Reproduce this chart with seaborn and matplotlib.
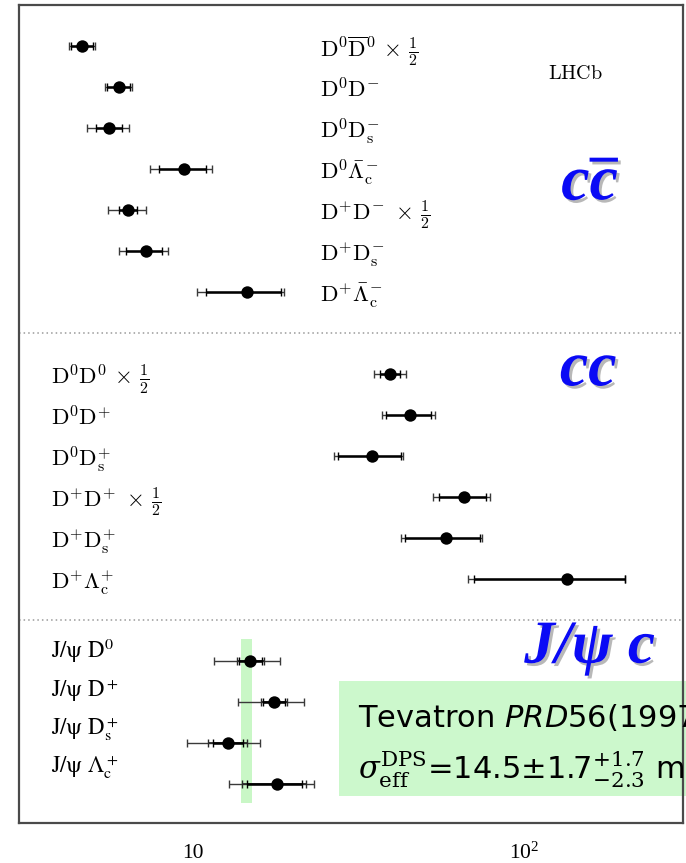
import numpy as np
import pandas as pd
import matplotlib
matplotlib.use("Agg")
import matplotlib.pyplot as plt
import matplotlib.patheffects as pe
from matplotlib.patches import Rectangle
from matplotlib.ticker import LogLocator, NullFormatter
import seaborn as sns

# ---------------------------------------------------------------- data
# effective DPS cross-section sigma_eff [mb]: central value, stat range, total range
ccbar_labels = [
    r"$\mathrm{D}^0\overline{\mathrm{D}}^0\,\times\,\frac{1}{2}$",
    r"$\mathrm{D}^0\mathrm{D}^{\!-}$",
    r"$\mathrm{D}^0\mathrm{D}_\mathrm{s}^{\!-}$",
    r"$\mathrm{D}^0\bar{\Lambda}_\mathrm{c}^{\!-}$",
    r"$\mathrm{D}^{\!+}\!\mathrm{D}^{\!-}\,\times\,\frac{1}{2}$",
    r"$\mathrm{D}^{\!+}\!\mathrm{D}_\mathrm{s}^{\!-}$",
    r"$\mathrm{D}^{\!+}\!\bar{\Lambda}_\mathrm{c}^{\!-}$",
]
ccbar_val = [4.65, 6.0, 5.61, 9.42, 6.40, 7.22, 14.6]
ccbar_stat_lo = [4.29, 5.54, 5.11, 7.92, 6.00, 6.31, 10.94]
ccbar_stat_hi = [5.01, 6.50, 6.11, 10.94, 6.78, 8.11, 18.5]
ccbar_tot_lo = [4.23, 5.46, 4.82, 7.42, 5.58, 6.00, 10.3]
ccbar_tot_hi = [5.08, 6.58, 6.43, 11.41, 7.22, 8.43, 18.9]

cc_labels = [
    r"$\mathrm{D}^0\mathrm{D}^0\,\times\,\frac{1}{2}$",
    r"$\mathrm{D}^0\mathrm{D}^{\!+}$",
    r"$\mathrm{D}^0\mathrm{D}_\mathrm{s}^{\!+}$",
    r"$\mathrm{D}^{\!+}\!\mathrm{D}^{\!+}\,\times\,\frac{1}{2}$",
    r"$\mathrm{D}^{\!+}\!\mathrm{D}_\mathrm{s}^{\!+}$",
    r"$\mathrm{D}^{\!+}\!\Lambda_\mathrm{c}^{\!+}$",
]
cc_val = [39.4, 45.3, 34.8, 65.7, 57.9, 134.0]
cc_stat_lo = [36.8, 38.3, 27.5, 55.1, 43.7, 70.2]
cc_stat_hi = [42.2, 52.4, 42.3, 76.3, 73.6, 200.0]
cc_tot_lo = [35.2, 37.1, 26.7, 53.1, 42.5, 67.5]
cc_tot_hi = [43.8, 53.6, 43.0, 78.8, 74.2, 201.0]

jpsi_labels = [
    r"$\mathrm{J/ψ\ D}^0$",
    r"$\mathrm{J/ψ\ D}^+$",
    r"$\mathrm{J/ψ\ D}_\mathrm{s}^+$",
    r"$\mathrm{J/ψ\ }\Lambda_\mathrm{c}^+$",
]
jpsi_val = [14.9, 17.6, 12.8, 18.0]
jpsi_stat_lo = [13.8, 16.3, 11.5, 14.6]
jpsi_stat_hi = [16.2, 19.0, 14.2, 21.3]
jpsi_syst_lo = [13.6, 16.1, 11.1, 14.1]
jpsi_syst_hi = [16.4, 19.3, 14.6, 22.0]
jpsi_tot_lo = [11.6, 13.7, 9.6, 12.9]
jpsi_tot_hi = [18.3, 21.6, 16.0, 23.2]

tevatron_sigma = 14.5
tevatron_band_halfwidth = 0.55

# ---------------------------------------------------------------- style
sns.set_style("white")
plt.rcParams["font.family"] = ["DejaVu Sans"]
plt.rcParams["text.color"] = "black"
plt.rcParams["mathtext.fontset"] = "custom"
plt.rcParams["mathtext.rm"] = "Liberation Serif"
plt.rcParams["mathtext.it"] = "Liberation Serif:italic:bold"
plt.rcParams["mathtext.bf"] = "Liberation Serif:bold"

W, H = 686, 863
fig = plt.figure(figsize=(W / 100, H / 100), dpi=100)
fig.patch.set_facecolor("white")
ax = fig.add_axes([19 / W, 1 - 823 / H, 664 / W, 818 / H])

# row positions: three blocks separated by one empty row
ccbar_rows = np.arange(1, 1 + len(ccbar_val))
cc_rows = np.arange(9, 9 + len(cc_val))
jpsi_rows = np.arange(16, 16 + len(jpsi_val))

df = pd.DataFrame({
    "value": ccbar_val + cc_val + jpsi_val,
    "row": np.concatenate([ccbar_rows, cc_rows, jpsi_rows]),
    "block": ["ccbar"] * len(ccbar_val) + ["cc"] * len(cc_val) + ["jpsi"] * len(jpsi_val),
})
lo_stat = np.array(ccbar_stat_lo + cc_stat_lo + jpsi_stat_lo)
hi_stat = np.array(ccbar_stat_hi + cc_stat_hi + jpsi_stat_hi)
lo_tot = np.array(ccbar_tot_lo + cc_tot_lo + jpsi_tot_lo)
hi_tot = np.array(ccbar_tot_hi + cc_tot_hi + jpsi_tot_hi)
vals = df["value"].to_numpy()
rows = df["row"].to_numpy()

# Tevatron reference band behind the J/psi block
band_rows = np.array([jpsi_rows[0] - 0.54, jpsi_rows[-1] + 0.46])
ax.fill_betweenx(band_rows, tevatron_sigma - tevatron_band_halfwidth,
                 tevatron_sigma + tevatron_band_halfwidth,
                 color="#c9f7c6", lw=0, zorder=1)

# total uncertainty (thin), then stat-only (thick)
ax.errorbar(vals, rows, xerr=[vals - lo_tot, hi_tot - vals], fmt="none",
            ecolor="#3a3a3a", elinewidth=1.0, capsize=3.0, capthick=1.0, zorder=3)
jv = np.array(jpsi_val)
ax.errorbar(jv, jpsi_rows, xerr=[jv - np.array(jpsi_syst_lo), np.array(jpsi_syst_hi) - jv],
            fmt="none", ecolor="#2a2a2a", elinewidth=1.3, capsize=3.0, capthick=1.0, zorder=3)
ax.errorbar(vals, rows, xerr=[vals - lo_stat, hi_stat - vals], fmt="none",
            ecolor="black", elinewidth=1.8, capsize=3.0, capthick=1.0, zorder=4)

sns.scatterplot(data=df, x="value", y="row", color="black", s=80,
                linewidth=0, legend=False, zorder=5, ax=ax)

ax.set_xscale("log")
ax.set_xlim(3, 300)
ax.set_ylim(19.95, 0)
ax.set_xlabel("")
ax.set_ylabel("")

# block separators
for y in (8, 15):
    ax.axhline(y, color="#9a9a9a", lw=1.1, ls=(0, (1, 2)), zorder=2)

# axis styling
for s in ax.spines.values():
    s.set_color("#4a4a4a")
    s.set_linewidth(1.6)
ax.set_yticks([])
ax.set_xticks([10, 100])
ax.set_xticklabels(["10", r"$10^2$"])
ax.xaxis.set_minor_locator(LogLocator(base=10, subs=np.arange(2, 10)))
ax.xaxis.set_minor_formatter(NullFormatter())
ax.tick_params(axis="x", which="major", direction="in", length=17, width=1.1,
               color="#4a4a4a", pad=25.5, labelsize=15.5, labelcolor="black")
ax.tick_params(axis="x", which="minor", direction="in", length=8.5, width=1.0,
               color="#4a4a4a")
for lbl in ax.get_xticklabels():
    lbl.set_fontfamily("Liberation Serif")
    lbl.set_verticalalignment("baseline")

# row labels
ytr = ax.get_yaxis_transform()
for lab, r in zip(ccbar_labels, ccbar_rows):
    ax.text(0.454, r + 0.25, lab, transform=ytr, fontsize=16.5, va="baseline",
            ha="left", math_fontfamily="cm")
for lab, r in zip(cc_labels, cc_rows):
    ax.text(0.048, r + 0.25, lab, transform=ytr, fontsize=16.5, va="baseline",
            ha="left", math_fontfamily="cm")
for i, lab in enumerate(jpsi_labels):
    ax.text(0.048, jpsi_rows[0] - 0.07 + 0.935 * i, lab, transform=ytr, fontsize=16.5,
            va="baseline", ha="left", math_fontfamily="stix")

ax.text(0.797, 1.80, r"$\mathrm{LHCb}$", transform=ytr, fontsize=14.5,
        va="baseline", ha="left", math_fontfamily="cm")

# block titles
shadow = [pe.withSimplePatchShadow(offset=(2, -2), shadow_rgbFace="#7f7f7f", alpha=0.55)]
blue = "#0a0af5"
ax.text(0.905, 0.762, r"$c\overline{c}$", transform=ax.transAxes, fontsize=46,
        color=blue, ha="right", va="baseline", math_fontfamily="custom",
        path_effects=shadow)
ax.text(0.900, 0.535, "cc", transform=ax.transAxes, fontsize=46, color=blue,
        ha="right", va="baseline", family="Liberation Serif", weight="bold",
        style="italic", path_effects=shadow)
ax.text(0.958, 0.196, "J/ψ c", transform=ax.transAxes, fontsize=44, color=blue,
        ha="right", va="baseline", family="Liberation Serif", weight="bold",
        style="italic", path_effects=shadow)

# Tevatron reference box (runs off the right edge of the figure)
ax.add_patch(Rectangle((0.482, 0.033), 0.55, 0.1406, transform=ax.transAxes,
                       facecolor="#ccf8cc", edgecolor="none", zorder=2, clip_on=False))
ax.text(0.51, 0.1174, r"Tevatron $\mathit{PRD56(1997)}$", transform=ax.transAxes,
        fontsize=22, ha="left", va="baseline", math_fontfamily="dejavusans",
        zorder=6, clip_on=False)
ax.text(0.51, 0.0526,
        r"$\sigma_{\mathrm{eff}}^{\mathrm{DPS}}$=14.5±1.7$^{+1.7}_{-2.3}$ mb",
        transform=ax.transAxes, fontsize=22, ha="left", va="baseline",
        math_fontfamily="dejavuserif", zorder=6, clip_on=False)

fig.savefig("out.png", dpi=100)
